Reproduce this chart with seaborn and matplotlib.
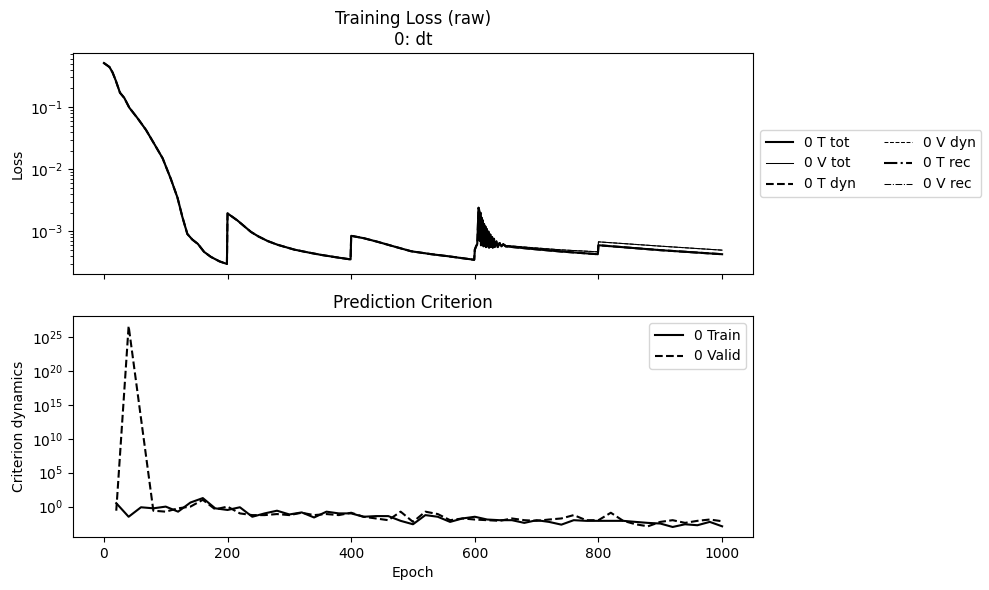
import numpy as np
import matplotlib
matplotlib.use("Agg")
import matplotlib.pyplot as plt
import seaborn as sns

# --- training loss (top panel) ---
epochs_loss = [0, 9, 14, 19, 26, 33, 41, 55, 68, 81, 95, 108, 119, 127, 135, 143, 152, 162, 173, 187, 199,
               200, 216, 225, 238, 250, 265, 281, 308, 330, 351, 375, 399,
               400, 420, 443, 470, 497, 530, 556, 599,
               600, 602, 604, 605, 606, 607, 608, 609, 610, 611, 612, 613, 614, 615, 616, 617, 618, 619, 620,
               622, 623, 625, 626, 628, 629, 631, 632, 635, 637, 640, 643, 646, 650,
               691, 740, 799, 800, 900, 1000]
loss_t_tot = [0.51, 0.44, 0.36, 0.27, 0.17, 0.14, 0.098, 0.065, 0.043, 0.026, 0.015, 7.1e-3, 3.5e-3, 1.7e-3,
              9.1e-4, 7.4e-4, 6.3e-4, 4.7e-4, 3.9e-4, 3.3e-4, 3.0e-4,
              1.95e-3, 1.5e-3, 1.26e-3, 9.8e-4, 8.3e-4, 7.0e-4, 6.1e-4, 5.1e-4, 4.6e-4, 4.2e-4, 3.85e-4, 3.55e-4,
              8.5e-4, 7.8e-4, 6.8e-4, 5.7e-4, 4.8e-4, 4.3e-4, 4.0e-4, 3.5e-4,
              5.1e-4, 5.75e-4, 6.3e-4, 1.26e-3, 2.4e-3, 2.2e-3, 7.1e-4, 2.0e-3, 6.0e-4, 1.66e-3, 6.3e-4, 1.5e-3,
              5.75e-4, 1.32e-3, 6.0e-4, 1.2e-3, 5.6e-4, 1.1e-3, 5.75e-4,
              1.0e-3, 5.5e-4, 8.9e-4, 5.6e-4, 8.1e-4, 5.5e-4, 7.6e-4, 5.6e-4, 6.9e-4, 5.6e-4, 6.5e-4, 5.75e-4,
              6.2e-4, 5.75e-4,
              5.25e-4, 4.75e-4, 4.3e-4, 6.0e-4, 5.0e-4, 4.3e-4]
loss_v_tot = [0.51, 0.44, 0.36, 0.27, 0.17, 0.14, 0.098, 0.065, 0.043, 0.026, 0.015, 7.1e-3, 3.5e-3, 1.7e-3,
              9.1e-4, 7.4e-4, 6.3e-4, 4.7e-4, 3.9e-4, 3.3e-4, 3.0e-4,
              1.95e-3, 1.5e-3, 1.26e-3, 9.8e-4, 8.3e-4, 7.0e-4, 6.1e-4, 5.1e-4, 4.6e-4, 4.2e-4, 3.85e-4, 3.55e-4,
              8.5e-4, 7.8e-4, 6.8e-4, 5.7e-4, 4.8e-4, 4.3e-4, 4.0e-4, 3.5e-4,
              5.1e-4, 5.75e-4, 6.3e-4, 1.26e-3, 2.4e-3, 2.2e-3, 7.1e-4, 2.0e-3, 6.0e-4, 1.66e-3, 6.3e-4, 1.5e-3,
              5.75e-4, 1.32e-3, 6.0e-4, 1.2e-3, 5.6e-4, 1.1e-3, 5.75e-4,
              1.0e-3, 5.5e-4, 8.9e-4, 5.6e-4, 8.1e-4, 5.5e-4, 7.6e-4, 5.6e-4, 6.9e-4, 5.7e-4, 6.6e-4, 5.9e-4,
              6.3e-4, 5.95e-4,
              5.5e-4, 5.05e-4, 4.7e-4, 6.8e-4, 5.8e-4, 5.0e-4]
# dynamics loss equals the total loss here, reconstruction loss is empty
loss_t_dyn = loss_t_tot
loss_v_dyn = loss_v_tot
loss_t_rec = []
loss_v_rec = []

# --- prediction criterion (bottom panel) ---
epochs_crit = list(range(20, 1001, 20))
crit_train = [3.2, 3.2e-2, 0.8, 0.56, 1.0, 0.18, 4.0, 18, 0.56, 0.32,
              0.8, 3.2e-2, 0.1, 0.25, 7e-2, 0.14, 2.5e-2, 0.18, 0.1, 0.1,
              3.2e-2, 4e-2, 4e-2, 8e-3, 2.5e-3, 5.6e-2, 3.2e-2, 5.6e-3, 1.8e-2, 3.2e-2,
              1.25e-2, 1e-2, 1e-2, 4e-3, 1e-2, 5.6e-3, 2.2e-3, 1e-2, 8e-3, 8e-3,
              8e-3, 8e-3, 5.6e-3, 4e-3, 3.2e-3, 1e-3, 2.5e-3, 1.8e-3, 5.6e-3, 1.25e-3]
crit_valid = [0.25, 4e26, 1e13, 0.25, 0.18, 0.56, 1.0, 10, 0.4, 1.0,
              0.1, 5.6e-2, 5.6e-2, 8e-2, 5.6e-2, 0.125, 5.6e-2, 8e-2, 5.6e-2, 0.125,
              3.2e-2, 1.8e-2, 1e-2, 0.18, 5.6e-3, 0.18, 8e-2, 1e-2, 1.8e-2, 1.25e-2,
              1e-2, 8e-3, 1.8e-2, 1e-2, 8e-3, 1.25e-2, 1.8e-2, 5.6e-2, 1e-2, 1e-2,
              0.125, 8e-3, 2.5e-3, 1.25e-3, 5.6e-3, 1e-2, 4e-3, 8e-3, 1.25e-2, 7e-3]

# plain matplotlib look: black text, black spines
plt.rcParams['font.family'] = ['DejaVu Sans']

fig, (ax1, ax2) = plt.subplots(2, 1, sharex=True, figsize=(9.89, 5.9), dpi=100)
ax1.set_position([0.0738, 0.5356, 0.6876, 0.3746])
ax2.set_position([0.0738, 0.0898, 0.6876, 0.3746])

# top panel
sns.lineplot(x=epochs_loss, y=loss_t_tot, ax=ax1, color='black', lw=1.5, label='0 T tot')
sns.lineplot(x=epochs_loss, y=loss_v_tot, ax=ax1, color='black', lw=0.75, label='0 V tot')
sns.lineplot(x=epochs_loss, y=loss_t_dyn, ax=ax1, color='black', lw=1.5, linestyle='--', label='0 T dyn')
sns.lineplot(x=epochs_loss, y=loss_v_dyn, ax=ax1, color='black', lw=0.75, linestyle='--', label='0 V dyn')
ax1.plot(loss_t_rec, loss_t_rec, color='black', lw=1.5, linestyle='-.', label='0 T rec')
ax1.plot(loss_v_rec, loss_v_rec, color='black', lw=0.75, linestyle='-.', label='0 V rec')
ax1.set_yscale('log')
ax1.set_ylabel('Loss')
ax1.set_title('Training Loss (raw)\n0: dt')
ax1.legend(loc='center left', bbox_to_anchor=(1.0, 0.5), ncol=2)

# bottom panel
sns.lineplot(x=epochs_crit, y=crit_train, ax=ax2, color='black', lw=1.5, label='0 Train')
sns.lineplot(x=epochs_crit, y=crit_valid, ax=ax2, color='black', lw=1.5, linestyle='--', label='0 Valid')
ax2.set_yscale('log')
ax2.set_ylabel('Criterion dynamics')
ax2.set_xlabel('Epoch')
ax2.set_title('Prediction Criterion')
ax2.legend(loc='upper right')

ax1.set_xlim(-50, 1050)
ax1.tick_params(labelbottom=False)

fig.savefig('out.png', dpi=100)
